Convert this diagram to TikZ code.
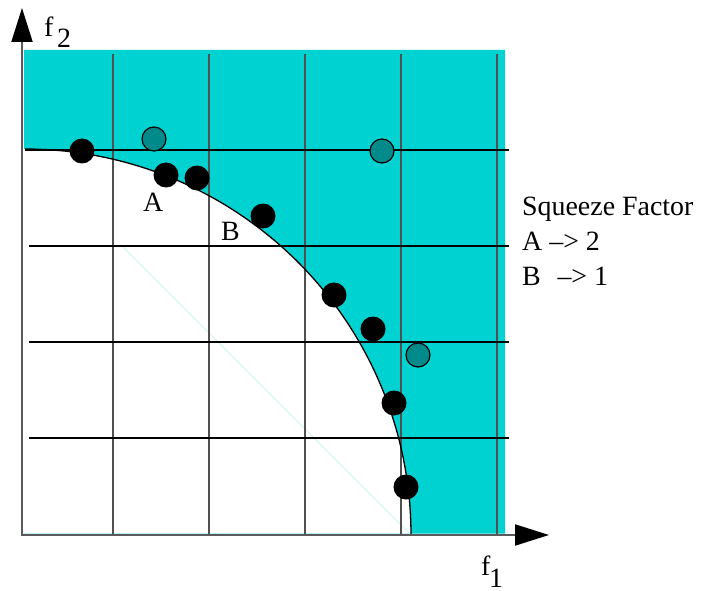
\documentclass[tikz,border=0pt]{standalone}
\usepackage{fontspec}
\setmainfont{Liberation Serif}
\usetikzlibrary{arrows.meta}
\definecolor{fillcyan}{RGB}{0,209,209}
\definecolor{dotteal}{RGB}{0,138,138}
\definecolor{gridgray}{RGB}{80,80,80}
\definecolor{axisgray}{RGB}{90,90,90}
\definecolor{faintcyan}{RGB}{190,242,242}
\begin{document}
\begin{tikzpicture}[x=1bp,y=-1bp,
  lbl/.style={font=\fontsize{28}{32}\selectfont, inner sep=0pt, anchor=base west},
  blackpt/.style={circle, fill=black, inner sep=0pt, minimum size=25bp},
  tealpt/.style={circle, fill=dotteal, draw=black, line width=1.2bp, inner sep=0pt, minimum size=24bp},
  vgrid/.style={gridgray, line width=1.5bp},
  hgrid/.style={black, line width=1.3bp},
  axisline/.style={axisgray, line width=2bp, {Triangle[length=34bp,width=21bp,black]}-{Triangle[length=34bp,width=21bp,black]}},
]
\useasboundingbox (0,0) rectangle (701,591);
% feasible-objective region
\fill[fillcyan] (24,50) -- (505,50) -- (505,533.5) -- (411,533.5)
  -- plot[domain=0:90, samples=90] ({25+386*cos(\x)}, {535-386*sin(\x)})
  -- (24,149) -- cycle;
% faint lines
\draw[faintcyan, line width=0.5bp] (123,247) -- (410,534);
\draw[faintcyan, line width=0.8bp] (24,533) -- (411,533);
% grid
\foreach \gx in {113,209,305,401,497} \draw[vgrid] (\gx,54) -- (\gx,535);
\draw[hgrid] (25,150) -- (509,150);
\foreach \gy in {246,342,438} \draw[hgrid] (29,\gy) -- (509,\gy);
% pareto front
\draw[black, line width=1.3bp] plot[domain=0:90, samples=90] ({25+386*cos(\x)}, {535-386*sin(\x)});
% axes
\coordinate (O) at (22,535);
\coordinate (ytip) at (22,8);
\coordinate (xtip) at (549,535);
\draw[axisline] (ytip) -- (O) -- (xtip);
% points
\node[blackpt] (p1) at (82,151) {};
\node[blackpt] (p2) at (166,175) {};
\node[blackpt] (p3) at (197,178) {};
\node[blackpt] (p4) at (263,216) {};
\node[blackpt] (p5) at (334,295) {};
\node[blackpt] (p6) at (373,329) {};
\node[blackpt] (p7) at (394,403) {};
\node[blackpt] (p8) at (406,487) {};
\node[tealpt] (q1) at (154,139) {};
\node[tealpt] (q2) at (382,151) {};
\node[tealpt] (q3) at (418,355) {};
% labels
\node[lbl] (la) at (143,211) {A};
\node[lbl] (lb) at (221,240) {B};
\node[lbl] (f2f) at (44,37) {f};
\node[lbl] (f2s) at (57,48) {2};
\node[lbl] (f1f) at (481,575) {f};
\node[lbl] (f1s) at (489,587) {1};
\node[lbl] (sq) at (522,215) {Squeeze Factor};
\node[lbl] (sa) at (522,250) {A \textendash> 2};
\node[lbl] (sb) at (522,285) {B\hspace{0.6em}\textendash> 1};
\end{tikzpicture}
\end{document}
